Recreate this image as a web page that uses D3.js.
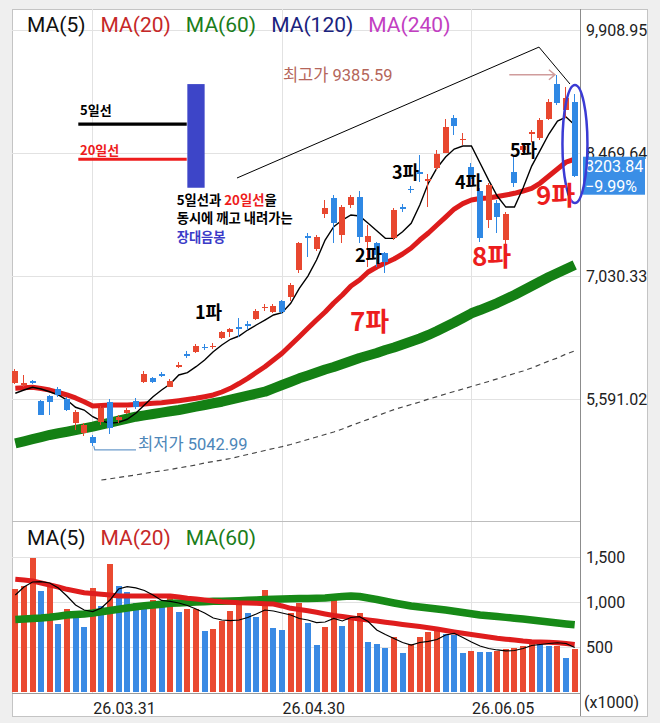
<!DOCTYPE html>
<html>
<head>
<meta charset="utf-8">
<script src="https://cdn.jsdelivr.net/npm/d3@7"></script>
<style>
  body { margin: 0; background: #efefef; }
  svg { display: block; font-family: Roboto, "Noto Sans CJK KR", sans-serif; }
</style>
</head>
<body>
<svg id="chart" width="660" height="723"></svg>
<script>
// ---- data ----
var open  = [5775,5755,5796,5571,5630,5704,5587,5314,5190,5143, 5325,5559,5345,5431,5571,5793,5833,5884,5735,5965,
             6123,6144,6205,6205,6301,6371,6428,6463,6523,6656, 6612,6738,6788,7100,7498,7342,7756,7939,7510,7861,
             7951,7431,7413,7303,7471,7837,8052,8253,8147,8290, 8473,8875,8621,8305,8028,7685,7888,7451,8250,8504,
             8692,8641,8863,9277,8972,9069];
var high  = [5942,5872,5813,5579,5638,5735,5618,5462,5314,5170, 5509,5587,5404,5486,5599,5922,5852,5910,5821,6020,
             6158,6229,6229,6250,6387,6425,6542,6507,6644,6703, 6703,6749,6952,7431,7530,7510,7919,7978,7861,7978,
             8028,7627,7431,7314,7822,7873,8083,8446,8224,8504, 8863,8914,8700,8352,8056,8115,7919,7782,8426,8586,
             8738,8875,9097,9385.59,9241,9165];
var low   = [5767,5731,5767,5398,5404,5618,5451,5228,5158,5042.99, 5287,5181,5314,5416,5470,5775,5775,5845,5728,5950,
             6071,6135,6170,6172,6290,6320,6320,6398,6515,6621, 6601,6591,6741,7062,7256,7326,7705,7413,7413,7822,
             7413,7139,7139,7062,7451,7782,8005,8134,7837,8270, 8466,8680,8563,8071,7431,7588,7530,7334,8075,8481,
             8602,8621,8855,9031,8879,8192];
var close = [5922,5778,5784,5404,5552,5638,5462,5435,5287,5073, 5482,5248,5384,5462,5501,5884,5793,5860,5802,5989,
             6100,6211,6194,6217,6371,6410,6410,6445,6621,6673, 6683,6605,6925,7413,7471,7490,7822,7647,7841,7958,
             7490,7498,7276,7197,7802,7820,8036,8229,8165,8454, 8770,8785,8639,8165,7471,8095,7724,7756,8115,8551,
             8721,8855,9069,9051,9114,8203.84];
var volume = [1141,1178,1485,1122,1163,755,918,904,718,1159, 955,1422,1181,1115,985,922,1022,1004,1078,893,
              918,925,681,696,789,904,1041,881,837,1133, 715,689,881,993,770,522,726,1022,737,848,
              874,559,533,493,615,430,530,615,663,726, 641,635,430,456,448,445,456,474,485,511,
              578,567,508,512,374,478];

var ma5   = [5658,5696,5728,5708,5676,5638,5579,5494,5462,5384, 5334,5307,5318,5354,5424,5521,5618,5696,5767,5872,
             5899,5969,6047,6144,6223,6290,6328,6398,6457,6515, 6574,6601,6711,6886,7030,7217,7451,7607,7685,7744,
             7732,7647,7560,7471,7471,7548,7647,7861,8118,8294, 8422,8516,8551,8551,8352,8153,7966,7837,7837,8060,
             8317,8504,8692,8844,8891,8797];
var ma20  = [5716,5722,5728,5714,5696,5667,5638,5603,5559,5509, 5515,5521,5521,5521,5527,5533,5541,5548,5559,5571,
             5585,5599,5618,5638,5673,5716,5772,5833,5901,5969, 6047,6126,6223,6320,6418,6515,6609,6714,6808,6913,
             6983,7077,7135,7182,7229,7288,7358,7451,7533,7627, 7720,7814,7878,7919,7937,7943,7960,7978,7998,8025,
             8056,8118,8200,8282,8364,8399];
var ma60  = [5073,5096,5121,5146,5170,5190,5208,5228,5248,5267, 5290,5314,5337,5361,5384,5400,5416,5431,5447,5462,
             5482,5501,5521,5541,5559,5583,5606,5630,5653,5676, 5716,5755,5793,5833,5866,5901,5936,5965,6000,6036,
             6071,6100,6129,6164,6194,6229,6264,6299,6340,6387, 6437,6486,6539,6594,6632,6673,6714,6761,6808,6860,
             6913,6966,7018,7065,7112,7159];
var ma120 = [null,null,null,null,null,null,null,null,null,null,
             4643,4657,4673,4688,4702,4719,4737,4751,4766,4784, 4801,4819,4842,4860,4877,4895,4918,4942,4965,4988,
             5012,5033,5059,5088,5117,5146,5176,5205,5240,5279, 5316,5353,5392,5430,5467,5497,5527,5556,5589,5618,
             5650,5679,5708,5737,5767,5796,5827,5860,5889,5919, 5954,5995,6036,6071,6118,6153];

var vma5  = [1078,1167,1222,1226,1211,1156,1067,967,911,894, 933,1022,1144,1170,1156,1128,1078,1017,1006,989,
             961,922,878,822,800,792,800,828,867,911, 900,878,856,817,800,772,778,817,789,828,
             837,783,689,639,594,550,522,550,563,583, 633,652,606,556,511,483,467,456,461,483,
             517,528,539,547,539,494];
var vma20 = [1252,1244,1233,1211,1189,1167,1141,1122,1103,1094, 1086,1078,1067,1067,1067,1067,1067,1067,1067,1056,
             1041,1033,1022,1011,1003,998,992,989,986,981, 978,956,930,917,903,886,867,850,839,826,
             811,800,789,776,763,750,739,727,714,700, 683,667,652,639,624,611,597,587,578,567,
             559,556,552,548,539,528];
var vma60 = [806,811,817,822,830,842,856,861,867,878, 892,906,920,933,948,958,967,976,986,990,
             994,1000,1003,1007,1009,1011,1014,1019,1022,1027, 1030,1033,1036,1038,1040,1042,1044,1053,1061,1067,
             1061,1044,1028,1008,989,972,956,944,933,922, 911,898,883,870,856,847,838,829,820,811,
             800,789,778,767,756,747];

var priceTicks = [5591.02, 7030.33, 8469.64, 9908.95];
var volTicks = [500, 1000, 1500];
var tickIdx = [9, 31, 53];
var tickLabels = ["26.03.31", "26.04.30", "26.06.05"];
var priceLegend = ["MA(5)", "MA(20)", "MA(60)", "MA(120)", "MA(240)"];
var volLegend = ["MA(5)", "MA(20)", "MA(60)"];

// annotation anchors in chart units: [bar index, price]
var waveText = ["1파", "2파", "3파", "4파", "5파", "7파", "8파", "9파"];
var waveAt = [[20.88, 6533], [39.47, 7200], [43.77, 8171], [51.09, 8054], [57.48, 8428],
              [38.89, 6387], [53.07, 7147], [60.5, 7861]];
var trendPts = [[25.76, 8177], [60.85, 9709], [64.45, 9277]];
var ellipseAt = [65.03, 8575];
var hiArrow = [[57.4, 9385.59], [62.7, 9385.59]];
var hiTextAt = [31.1, 9317];
var loTextAt = [14.26, 4994];
var sketchBlack = [[7.32, 8808], [19.92, 8808]];
var sketchRed = [[7.32, 8397], [19.92, 8397]];
var sketchBar = [[19.99, 9276], [22.0, 8063]];
var sketchText5 = [7.52, 8914];
var sketchText20 = [7.52, 8446];
var noteAt = [18.75, 7861];

// ---- layout ----
var padL = 12, padR = 580, outerR = 647, padT = 9, priceBottom = 521, volBottom = 693, padB = 716;
var RED = "#e8472f", BLUE = "#2f88e4";

var svg = d3.select("#chart");

var x = d3.scaleLinear().domain([-0.5, open.length - 0.5]).range([11, 579]);
var y = d3.scaleLinear().domain([5591.02, 9908.95]).range([399, 30]);
var yv = d3.scaleLinear().domain([0, 1500]).range([692, 557]);
var bw = 6;

svg.append("rect").attr("x", padL + 0.5).attr("y", padT + 0.5)
  .attr("width", outerR - padL).attr("height", padB - padT)
  .attr("fill", "#fff").attr("stroke", "#c4c4c4");

var defs = svg.append("defs");
defs.append("clipPath").attr("id", "cp").append("rect")
  .attr("x", padL).attr("y", padT).attr("width", padR - padL).attr("height", priceBottom - padT);
defs.append("clipPath").attr("id", "cv").append("rect")
  .attr("x", padL).attr("y", priceBottom).attr("width", padR - padL).attr("height", volBottom - priceBottom);

// grid
var grid = svg.append("g").attr("stroke", "#e2e2e2").attr("shape-rendering", "crispEdges");
grid.selectAll(".gp").data(priceTicks).join("line")
  .attr("x1", padL).attr("x2", padR).attr("y1", function(d){ return y(d); }).attr("y2", function(d){ return y(d); });
grid.selectAll(".gv").data(volTicks).join("line")
  .attr("x1", padL).attr("x2", padR).attr("y1", function(d){ return yv(d); }).attr("y2", function(d){ return yv(d); });
grid.selectAll(".gx").data(tickIdx).join("line")
  .attr("x1", function(d){ return x(d); }).attr("x2", function(d){ return x(d); })
  .attr("y1", padT).attr("y2", volBottom);

// frame lines
svg.append("line").attr("x1", padL).attr("x2", padR).attr("y1", priceBottom + 0.5).attr("y2", priceBottom + 0.5)
  .attr("stroke", "#bdbdbd");
svg.append("line").attr("x1", padL).attr("x2", padR).attr("y1", volBottom + 0.5).attr("y2", volBottom + 0.5)
  .attr("stroke", "#9a9a9a");
svg.append("line").attr("x1", padR + 0.5).attr("x2", padR + 0.5).attr("y1", padT).attr("y2", padB)
  .attr("stroke", "#8c8c8c");

// ---- price panel ----
var pp = svg.append("g").attr("clip-path", "url(#cp)");
var line = function(sc) {
  return d3.line().defined(function(d){ return d != null; })
    .x(function(d, i){ return x(i); }).y(function(d){ return sc(d); });
};
pp.append("path").attr("d", line(y)(ma120)).attr("fill", "none")
  .attr("stroke", "#444").attr("stroke-width", 1.2).attr("stroke-dasharray", "5,4");
pp.append("path").attr("d", line(y)(ma60)).attr("fill", "none")
  .attr("stroke", "#148014").attr("stroke-width", 10).attr("stroke-linejoin", "round");
pp.append("path").attr("d", line(y)(ma20)).attr("fill", "none")
  .attr("stroke", "#dd1c1c").attr("stroke-width", 5).attr("stroke-linejoin", "round");
pp.append("path").attr("d", line(y)(ma5)).attr("fill", "none")
  .attr("stroke", "#000").attr("stroke-width", 1.4);

var candles = pp.append("g").attr("shape-rendering", "crispEdges")
  .selectAll("g").data(open).join("g")
  .attr("fill", function(d, i){ return close[i] >= open[i] ? RED : BLUE; });
candles.append("rect")
  .attr("x", function(d, i){ return Math.round(x(i)) - 1; }).attr("width", 1)
  .attr("y", function(d, i){ return y(high[i]); })
  .attr("height", function(d, i){ return y(low[i]) - y(high[i]); });
candles.append("rect")
  .attr("x", function(d, i){ return Math.round(x(i)) - bw / 2 - 0.5; }).attr("width", bw)
  .attr("y", function(d, i){ return y(Math.max(open[i], close[i])); })
  .attr("height", function(d, i){ return Math.max(1.5, Math.abs(y(open[i]) - y(close[i]))); });

// ---- volume panel ----
var vp = svg.append("g").attr("clip-path", "url(#cv)");
vp.append("g").attr("shape-rendering", "crispEdges").selectAll("rect").data(volume).join("rect")
  .attr("x", function(d, i){ return Math.round(x(i)) - bw / 2 - 0.5; }).attr("width", bw)
  .attr("y", function(d){ return yv(d); })
  .attr("height", function(d){ return yv(0) - yv(d); })
  .attr("fill", function(d, i){ return (i === 0 || d >= volume[i - 1]) ? "#ea4a31" : "#3a8ae4"; });
vp.append("path").attr("d", line(yv)(vma60)).attr("fill", "none")
  .attr("stroke", "#178a17").attr("stroke-width", 7.5).attr("stroke-linejoin", "round");
vp.append("path").attr("d", line(yv)(vma20)).attr("fill", "none")
  .attr("stroke", "#df1d1d").attr("stroke-width", 5).attr("stroke-linejoin", "round");
vp.append("path").attr("d", line(yv)(vma5)).attr("fill", "none")
  .attr("stroke", "#000").attr("stroke-width", 1.2);

// ---- axes ----
var pAxis = svg.append("g").attr("transform", "translate(" + padR + ",0)")
  .call(d3.axisRight(y).tickValues(priceTicks).tickSize(0).tickPadding(6).tickFormat(d3.format(",.2f")));
var vAxis = svg.append("g").attr("transform", "translate(" + padR + ",0)")
  .call(d3.axisRight(yv).tickValues(volTicks).tickSize(0).tickPadding(6).tickFormat(d3.format(",")));
var xAxis = svg.append("g").attr("transform", "translate(0," + volBottom + ")")
  .call(d3.axisBottom(x).tickValues(tickIdx).tickSize(0).tickPadding(10)
    .tickFormat(function(d, i){ return tickLabels[i]; }));
[pAxis, vAxis, xAxis].forEach(function(g) {
  g.select(".domain").remove();
  g.selectAll("text").attr("font-family", "Roboto").attr("font-size", 16).attr("fill", "#222");
});
xAxis.selectAll("text").attr("text-anchor", "start");
svg.append("text").attr("x", 584).attr("y", 707.5).attr("font-size", 16).attr("fill", "#222")
  .attr("font-family", "Roboto").text("(x1000)");

// current price box
var cy = y(close[close.length - 1]);
var pct = close[close.length - 1] / close[close.length - 2] - 1;
svg.append("rect").attr("x", 583).attr("y", cy - 19).attr("width", 62).attr("height", 38).attr("fill", "#3a8ee6");
svg.append("text").attr("x", 585).attr("y", cy - 4).attr("font-size", 16).attr("fill", "#fff")
  .text(d3.format(".2f")(close[close.length - 1]));
svg.append("text").attr("x", 585).attr("y", cy + 16).attr("font-size", 16).attr("fill", "#fff")
  .text(d3.format(".2%")(pct));

// ---- legends ----
var legColors = ["#111", "#c62828", "#1b7d1b", "#1a237e", "#c23ec2"];
function legend(labels, baseline) {
  var cx = 27;
  labels.forEach(function(t, i) {
    var el = svg.append("text").attr("x", cx).attr("y", baseline).attr("font-size", 21)
      .attr("fill", legColors[i]).text(t);
    cx += el.node().getComputedTextLength() + 15;
  });
}
legend(priceLegend, 31.5);
legend(volLegend, 545);

// ---- annotations ----
var ann = svg.append("g");
function px(p) { return [x(p[0]), y(p[1])]; }

// high / low
ann.append("text").attr("x", px(hiTextAt)[0]).attr("y", px(hiTextAt)[1]).attr("font-size", 16.5)
  .attr("fill", "#b5665a").text("최고가 " + d3.format(".2f")(d3.max(high)));
var a0 = px(hiArrow[0]), a1 = px(hiArrow[1]);
ann.append("path").attr("fill", "none").attr("stroke", "#d09c9c").attr("stroke-width", 1.5)
  .attr("d", "M" + a0[0] + "," + a0[1] + "H" + a1[0] + "M" + (a1[0] - 6) + "," + (a1[1] - 5)
    + "L" + a1[0] + "," + a1[1] + "L" + (a1[0] - 6) + "," + (a1[1] + 5));
var iLow = low.indexOf(d3.min(low));
var lp = [x(iLow), y(low[iLow])];
var lt = px(loTextAt);
ann.append("path").attr("fill", "none").attr("stroke", "#6c9ccc").attr("stroke-width", 1.2)
  .attr("d", "M" + (lp[0] + 1) + "," + lp[1] + "L" + (lp[0] + 2) + "," + (lp[1] + 4) + "H" + (lt[0] - 2));
ann.append("text").attr("x", lt[0]).attr("y", lt[1]).attr("font-size", 16.5)
  .attr("fill", "#4d86b8").text("최저가 " + d3.format(".2f")(low[iLow]));

// trend line and ellipse
ann.append("path").attr("fill", "none").attr("stroke", "#000").attr("stroke-width", 1)
  .attr("d", d3.line()(trendPts.map(px)));
var ec = px(ellipseAt);
ann.append("ellipse").attr("cx", ec[0]).attr("cy", ec[1]).attr("rx", 12.5).attr("ry", 59)
  .attr("fill", "none").attr("stroke", "#3b3bd4").attr("stroke-width", 2.5);

// sketch at top-left
var kr = "'Noto Sans CJK KR', sans-serif";
ann.append("path").attr("stroke", "#000").attr("stroke-width", 3.4).attr("d", d3.line()(sketchBlack.map(px)));
ann.append("path").attr("stroke", "#ee1c1c").attr("stroke-width", 3).attr("d", d3.line()(sketchRed.map(px)));
var b0 = px(sketchBar[0]), b1 = px(sketchBar[1]);
ann.append("rect").attr("x", b0[0]).attr("y", b0[1]).attr("width", b1[0] - b0[0]).attr("height", b1[1] - b0[1])
  .attr("fill", "#3d45c8");
ann.append("text").attr("x", px(sketchText5)[0]).attr("y", px(sketchText5)[1])
  .attr("font-family", kr).attr("font-weight", 700).attr("font-size", 13).attr("fill", "#000").text("5일선");
ann.append("text").attr("x", px(sketchText20)[0]).attr("y", px(sketchText20)[1])
  .attr("font-family", kr).attr("font-weight", 700).attr("font-size", 13).attr("fill", "#ee1c1c").text("20일선");
var note = ann.append("text").attr("x", px(noteAt)[0]).attr("y", px(noteAt)[1])
  .attr("font-family", kr).attr("font-weight", 700).attr("font-size", 13.3).attr("fill", "#000");
note.append("tspan").text("5일선과 ");
note.append("tspan").attr("fill", "#ee1c1c").text("20일선");
note.append("tspan").text("을");
note.append("tspan").attr("x", px(noteAt)[0]).attr("dy", 18.3).text("동시에 깨고 내려가는");
note.append("tspan").attr("x", px(noteAt)[0]).attr("dy", 18.3).attr("fill", "#3b3bc8").text("장대음봉");

// wave labels
ann.selectAll(".wave").data(waveText).join("text")
  .attr("x", function(d, i){ return x(waveAt[i][0]); })
  .attr("y", function(d, i){ return y(waveAt[i][1]); })
  .attr("font-family", kr).attr("font-weight", 700)
  .attr("font-size", function(d, i){ return i < 5 ? 18 : 26; })
  .attr("fill", function(d, i){ return i < 5 ? "#000" : "#ec1d1d"; })
  .text(function(d){ return d; });
</script>
</body>
</html>
